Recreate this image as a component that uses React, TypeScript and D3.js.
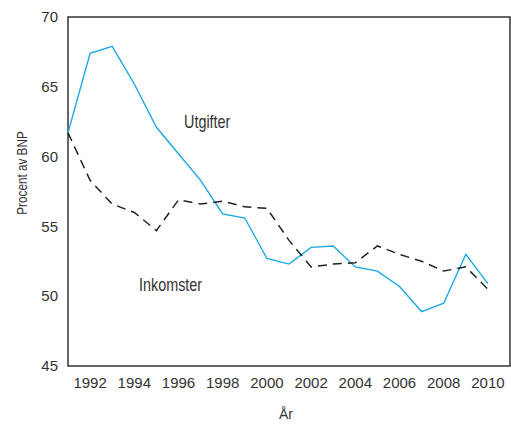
import React, { useRef, useEffect } from 'react';
import * as d3 from 'd3';

const years = d3.range(1991, 2011);
const utgifter = [61.7, 67.4, 67.9, 65.2, 62.1, 60.2, 58.3, 55.9, 55.6, 52.7, 52.3, 53.5, 53.6, 52.1, 51.8, 50.7, 48.9, 49.5, 53.0, 50.9];
const inkomster = [61.7, 58.3, 56.6, 56.0, 54.7, 56.9, 56.6, 56.8, 56.4, 56.3, 54.0, 52.1, 52.3, 52.4, 53.6, 53.0, 52.5, 51.8, 52.1, 50.5];
const yTicks = [45, 50, 55, 60, 65, 70];
const xTicks = [1992, 1994, 1996, 1998, 2000, 2002, 2004, 2006, 2008, 2010];

const font = "'Liberation Sans', Arial, sans-serif";

const App = () => {
  const ref = useRef<SVGSVGElement>(null);

  useEffect(() => {
    const svg = d3.select(ref.current);
    svg.selectAll('*').remove();

    const left = 68, top = 17, right = 510, bottom = 366;

    const x = d3.scaleLinear().domain([1991, 2011]).range([left, right]);
    const y = d3.scaleLinear().domain([45, 70]).range([bottom, top]);

    // frame
    svg.append('rect')
      .attr('x', left).attr('y', top)
      .attr('width', right - left).attr('height', bottom - top)
      .attr('fill', 'none').attr('stroke', '#333').attr('stroke-width', 1.5);

    // y tick labels
    svg.append('g').selectAll('text').data(yTicks).enter().append('text')
      .attr('x', left - 10)
      .attr('y', d => y(d))
      .attr('dy', '0.35em')
      .attr('text-anchor', 'end')
      .style('font-family', font).style('font-size', '15px').style('fill', '#333')
      .text(d => d);

    // x tick labels
    svg.append('g').selectAll('text').data(xTicks).enter().append('text')
      .attr('x', d => x(d))
      .attr('y', bottom + 22)
      .attr('text-anchor', 'middle')
      .style('font-family', font).style('font-size', '15px').style('fill', '#333')
      .text(d => d);

    // axis titles
    svg.append('text')
      .attr('x', 286).attr('y', 419)
      .attr('text-anchor', 'middle')
      .style('font-family', font).style('font-size', '14px').style('fill', '#333')
      .text('År');

    svg.append('text')
      .attr('transform', 'translate(27, 173) rotate(-90) scale(0.84, 1)')
      .attr('text-anchor', 'middle')
      .style('font-family', font).style('font-size', '14px').style('fill', '#333')
      .text('Procent av BNP');

    const line = d3.line<number>()
      .x((d, i) => x(years[i]))
      .y(d => y(d));

    svg.append('path')
      .datum(utgifter)
      .attr('d', line)
      .attr('fill', 'none')
      .attr('stroke', '#1ba8e3')
      .attr('stroke-width', 1.4);

    svg.append('path')
      .datum(inkomster)
      .attr('d', line)
      .attr('fill', 'none')
      .attr('stroke', '#222')
      .attr('stroke-width', 1.5)
      .attr('stroke-dasharray', '9,6');

    // series labels (condensed look)
    svg.append('text')
      .attr('transform', 'translate(184, 128) scale(0.8, 1)')
      .style('font-family', font).style('font-size', '18px').style('fill', '#333')
      .text('Utgifter');

    svg.append('text')
      .attr('transform', 'translate(139, 291) scale(0.8, 1)')
      .style('font-family', font).style('font-size', '18px').style('fill', '#333')
      .text('Inkomster');
  }, []);

  return (
    <svg ref={ref} width={511} height={429} style={{ position: 'absolute', left: 0, top: 0, background: 'white' }} />
  );
};

export default App;
